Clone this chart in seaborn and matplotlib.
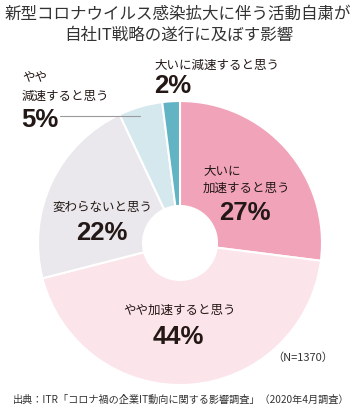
import matplotlib
matplotlib.use("Agg")
import matplotlib.pyplot as plt
import seaborn as sns

# ---- data ----
categories = ["大いに加速すると思う", "やや加速すると思う", "変わらないと思う",
              "やや減速すると思う", "大いに減速すると思う"]
values = [27, 44, 22, 5, 2]
colors = ["#f1a4b9", "#fce4eb", "#eae8ec", "#d4e8ee", "#62b3c3"]
title_lines = ["新型コロナウイルス感染拡大に伴う活動自粛が", "自社IT戦略の遂行に及ぼす影響"]
sample_note = "（N=1370）"
source_note = "出典：ITR「コロナ禍の企業IT動向に関する影響調査」（2020年4月調査）"

sns.set_theme(style="white")
JP = ["Noto Sans CJK JP", "DejaVu Sans"]
NUM = ["Liberation Sans", "DejaVu Sans"]
plt.rcParams["font.family"] = JP

W, H = 360, 410
fig = plt.figure(figsize=(W / 100, H / 100), dpi=100)
fig.patch.set_facecolor("white")

cx, cy, r = 180, 244, 142
ax = fig.add_axes([(cx - r) / W, 1 - (cy + r) / H, 2 * r / W, 2 * r / H])
ax.pie(values, colors=sns.color_palette(colors), startangle=90, counterclock=False,
       radius=1.0, wedgeprops=dict(width=1 - 37 / 142, edgecolor="white", linewidth=1.5))
ax.set_xlim(-1, 1)
ax.set_ylim(-1, 1)
ax.set_aspect("auto")
ax.axis("off")

def P(x, y):
    return x / W, 1 - y / H

TXT = "#231815"
# title
fig.text(*P(178, 14), title_lines[0], ha="center", va="center", fontsize=11.9, color="#333333", family=JP)
fig.text(*P(179, 35), title_lines[1], ha="center", va="center", fontsize=11.9, color="#333333", family=JP)

lab = 9.0
pct = 18.5

# 大いに加速
fig.text(*P(203, 171), "大いに", ha="left", va="center", fontsize=lab, color=TXT, family=JP)
fig.text(*P(203, 188), "加速すると思う", ha="left", va="center", fontsize=lab, color=TXT, family=JP)
fig.text(*P(245, 213), f"{values[0]}%", ha="center", va="center", fontsize=pct, weight="bold", color=TXT, family=NUM)

# やや加速
fig.text(*P(180, 310), "やや加速すると思う", ha="center", va="center", fontsize=lab, color=TXT, family=JP)
fig.text(*P(178, 337), f"{values[1]}%", ha="center", va="center", fontsize=pct, weight="bold", color=TXT, family=NUM)

# 変わらない
fig.text(*P(102, 207), "変わらないと思う", ha="center", va="center", fontsize=lab, color=TXT, family=JP)
fig.text(*P(102, 233), f"{values[2]}%", ha="center", va="center", fontsize=pct, weight="bold", color=TXT, family=NUM)

# やや減速
fig.text(*P(22, 77), "やや", ha="left", va="center", fontsize=lab, color=TXT, family=JP)
fig.text(*P(22, 96), "減速すると思う", ha="left", va="center", fontsize=lab, color=TXT, family=JP)
fig.text(*P(21, 120), f"{values[3]}%", ha="left", va="center", fontsize=pct, weight="bold", color=TXT, family=NUM)
fig.add_artist(plt.Line2D([60 / W, 140 / W], [1 - 117 / H, 1 - 117 / H], color="#9a9a9a", lw=0.8))

# 大いに減速
fig.text(*P(154, 65), "大いに減速すると思う", ha="left", va="center", fontsize=lab, color=TXT, family=JP)
fig.text(*P(154, 86), f"{values[4]}%", ha="left", va="center", fontsize=pct, weight="bold", color=TXT, family=NUM)

# notes
fig.text(*P(333, 358), sample_note, ha="right", va="center", fontsize=8, color="#333333", family=JP)
fig.text(*P(181, 400), source_note, ha="center", va="center", fontsize=7.3, color="#333333", family=JP)

fig.savefig("out.png", dpi=100, facecolor="white")
